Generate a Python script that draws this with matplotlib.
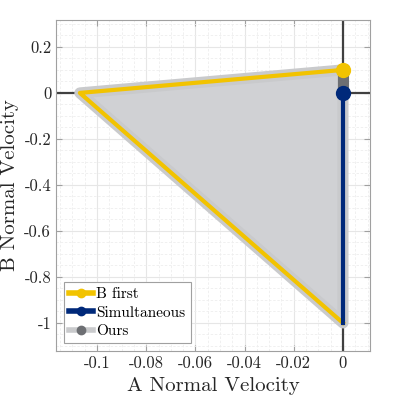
import matplotlib
matplotlib.use("Agg")
import matplotlib.pyplot as plt
from matplotlib.ticker import MultipleLocator

plt.rcParams['font.family'] = 'cmr10'
plt.rcParams['axes.unicode_minus'] = False
plt.rcParams['mathtext.fontset'] = 'cm'

# data
b_first_x = [0, -0.107, 0]
b_first_y = [0.1, 0, -1]
simul_x = [0, 0]
simul_y = [0, -1]
ours_x = [0, -0.107, 0, 0, 0]
ours_y = [0.1, 0, -1, 0, 0.1]
gap_x = [0, 0]
gap_y = [0.1, 0]

yellow = '#f2c300'
navy = '#00297a'
light = '#c9cacc'
dark = '#6d6f73'

fig = plt.figure(figsize=(3.95, 3.98), dpi=100)
ax = fig.add_axes([56/395, 1-351/398, 314/395, 331/398])

ax.set_xlim(-0.1167, 0.011)
ax.set_ylim(-1.122, 0.317)

ax.grid(which='major', color='#e6e6e6', lw=0.8)
ax.grid(which='minor', color='#eeeeee', lw=0.6, ls=(0, (3, 2)))
ax.set_axisbelow(True)

ax.axhline(0, color='#404040', lw=1.6, zorder=1)
ax.axvline(0, color='#404040', lw=1.6, zorder=1)

ax.fill(ours_x, ours_y, color='#d0d1d4', zorder=2, lw=0)
ax.plot(ours_x, ours_y, color=light, lw=8, solid_joinstyle='round',
        solid_capstyle='round', zorder=3)
ax.plot(gap_x, gap_y, color=dark, lw=8, zorder=4)
l_ours, = ax.plot([], [], color=light, lw=7, marker='o', ms=10,
                  mfc=dark, mec=dark, label='Ours')

l_b, = ax.plot(b_first_x, b_first_y, color=yellow, lw=3, marker='o', ms=10,
               markevery=[0], zorder=5, label='B first')
l_s, = ax.plot(simul_x, simul_y, color=navy, lw=3, marker='o', ms=10,
               markevery=[0], zorder=5, label='Simultaneous')

for s in ax.spines.values():
    s.set_color('#a0a0a0')
ax.tick_params(which='both', direction='in', top=True, right=True,
               colors='#262626', labelsize=12)
ax.tick_params(which='major', length=4, color='#a0a0a0')

ax.set_xticks([-0.1, -0.08, -0.06, -0.04, -0.02, 0])
ax.set_xticklabels(['-0.1', '-0.08', '-0.06', '-0.04', '-0.02', '0'])
ax.set_yticks([0.2, 0, -0.2, -0.4, -0.6, -0.8, -1])
ax.set_yticklabels(['0.2', '0', '-0.2', '-0.4', '-0.6', '-0.8', '-1'])
ax.xaxis.set_minor_locator(MultipleLocator(0.005))
ax.yaxis.set_minor_locator(MultipleLocator(0.05))
ax.tick_params(which='minor', length=0)

ax.set_xlabel('A Normal Velocity', fontsize=15, color='#262626')
ax.set_ylabel('B Normal Velocity', fontsize=15, color='#262626')

leg = ax.legend(handles=[l_b, l_s, l_ours], loc='lower left', fontsize=11,
                fancybox=False, edgecolor='#a0a0a0', framealpha=1,
                handlelength=1.6, handletextpad=0.2, borderpad=0.35,
                labelspacing=0.3, borderaxespad=0.5)
leg.get_frame().set_linewidth(0.8)
for h in leg.legend_handles:
    h.set_markersize(6)
    h.set_linewidth(4)

fig.savefig('out.png', dpi=100)
